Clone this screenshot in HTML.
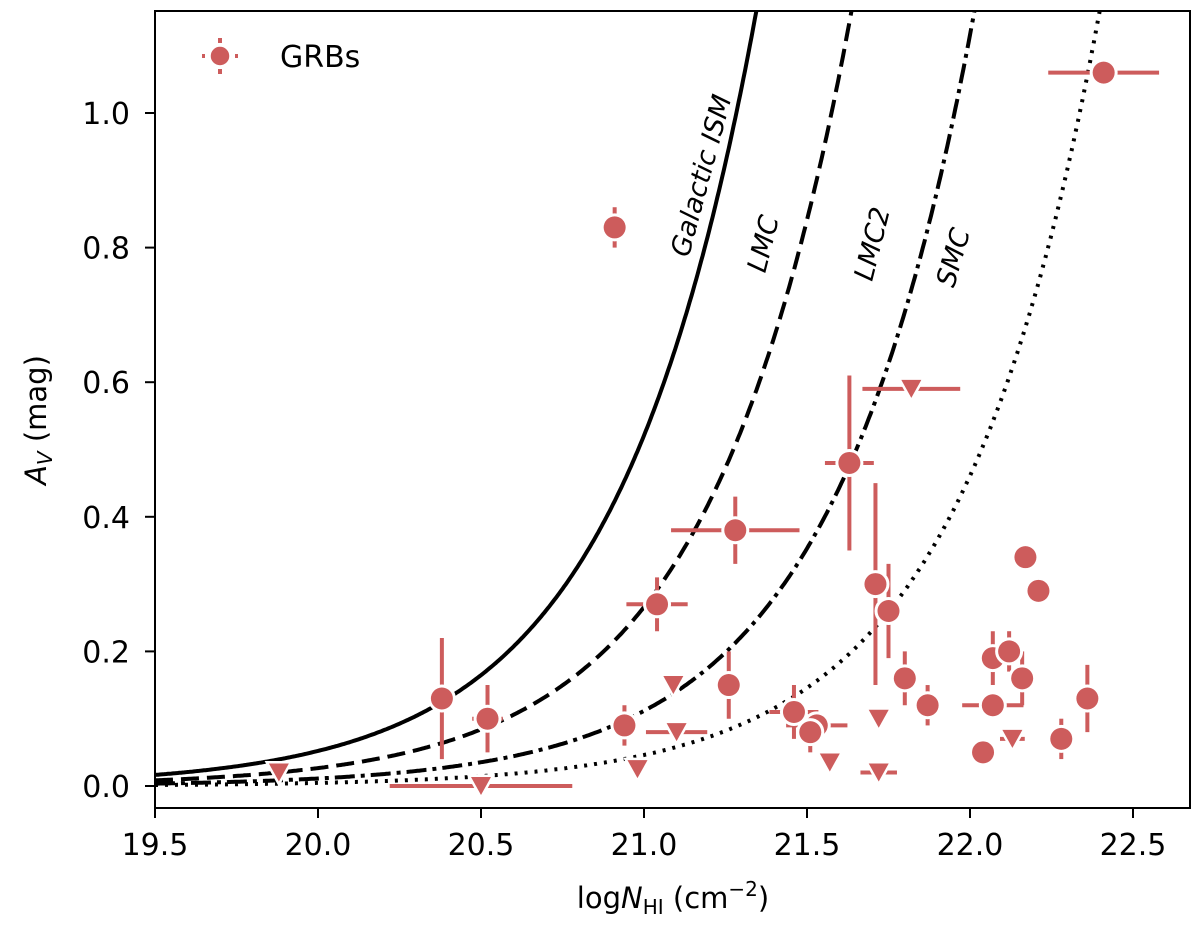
<!DOCTYPE html>
<html><head><meta charset="utf-8"><style>
body{margin:0;background:#fff}
svg{display:block;font-family:"DejaVu Sans","Liberation Sans",sans-serif}
</style></head><body>
<svg id="chart" width="1200" height="932" viewBox="0 0 1200 932">
<g id="curves"></g>
<g id="errs"></g>
<g id="marks"></g>
<rect x="155" y="11" width="1035" height="797" fill="none" stroke="#000" stroke-width="2"/>
<g id="axes" font-size="30"></g>
<text x="673" y="908" font-size="29" text-anchor="middle">log<tspan font-style="italic">N</tspan><tspan font-size="20" dy="6">HI</tspan><tspan dy="-6"> (cm</tspan><tspan font-size="20" dy="-12">−2</tspan><tspan dy="12">)</tspan></text>
<text transform="translate(46,420) rotate(-90)" font-size="29" text-anchor="middle"><tspan font-style="italic">A</tspan><tspan font-style="italic" font-size="20" dy="6">V</tspan><tspan dy="-6"> (mag)</tspan></text>
<g>
<line x1="220" y1="38" x2="220" y2="74" stroke="#cd5c5c" stroke-width="4" stroke-dasharray="5 26"/>
<line x1="202" y1="56" x2="238" y2="56" stroke="#cd5c5c" stroke-width="4" stroke-dasharray="3 30"/>
<circle cx="220" cy="56" r="10" fill="#cd5c5c" stroke="#fff" stroke-width="1.5"/>
<text x="280" y="67" font-size="30">GRBs</text>
</g>
<g font-size="27" font-style="italic">
<text transform="translate(710,178) rotate(-75)" text-anchor="middle">Galactic ISM</text>
<text transform="translate(772,246) rotate(-76)" text-anchor="middle">LMC</text>
<text transform="translate(881,246) rotate(-76)" text-anchor="middle">LMC2</text>
<text transform="translate(962,260) rotate(-74)" text-anchor="middle">SMC</text>
</g>
</svg>
<script>
const xTicks=[19.5,20.0,20.5,21.0,21.5,22.0,22.5];
const yTicks=[0.0,0.2,0.4,0.6,0.8,1.0];
const modelNames=['galactic','lmc','lmc2','smc'];
const modelRatios=[1.92e21,3.76e21,8.96e21,2.17e22];
const modelDash=['none','18 8','20 6 4 6','3 7'];
// detections: x, y, xerr, yerr
const detX=[20.38,20.52,20.91,21.04,21.28,21.26,20.94,21.46,21.53,21.51,21.63,21.71,21.75,21.80,21.87,22.04,22.07,22.07,22.12,22.16,22.17,22.21,22.28,22.36,22.41];
const detY=[0.13,0.10,0.83,0.27,0.38,0.15,0.09,0.11,0.09,0.08,0.48,0.30,0.26,0.16,0.12,0.05,0.19,0.12,0.20,0.16,0.34,0.29,0.07,0.13,1.06];
const detXerr=[0,0.047,0,0.094,0.197,0,0.028,0.075,0.094,0.028,0.075,0,0,0,0,0,0.019,0.094,0.028,0.019,0.028,0,0,0,0.17];
const detYerr=[0.09,0.05,0.03,0.04,0.05,0.05,0.03,0.04,0.02,0.03,0.13,0.15,0.07,0.04,0.03,0,0.04,0,0.03,0.04,0,0,0.03,0.05,0];
// upper limits
const limX=[19.88,20.50,20.98,21.09,21.10,21.57,21.72,21.72,21.82,22.13];
const limY=[0.02,0.0,0.025,0.15,0.08,0.035,0.10,0.02,0.59,0.07];
const limXerr=[0,0.28,0,0,0.094,0,0,0.056,0.15,0.038];
const C='#cd5c5c',NS='http://www.w3.org/2000/svg';
const X=v=>155+(v-19.5)*326, Y=v=>786-v*673;
function mk(tag,attrs,parent){const e=document.createElementNS(NS,tag);for(const k in attrs)e.setAttribute(k,attrs[k]);parent.appendChild(e);return e;}
const axes=document.getElementById('axes');
xTicks.forEach(t=>{
 const l=mk('line',{x1:X(t),x2:X(t),y1:808,y2:818,stroke:'#000','stroke-width':2},axes);
 
 
 const tx=mk('text',{x:X(t),y:855,'text-anchor':'middle'},axes);tx.textContent=t.toFixed(1);
 
 
});
yTicks.forEach(t=>{
 const l=mk('line',{x1:145,x2:155,y1:Y(t),y2:Y(t),stroke:'#000','stroke-width':2},axes);
 
 
 const tx=mk('text',{x:130,y:Y(t)+11,'text-anchor':'end'},axes);tx.textContent=t.toFixed(1);
 
 
});
const defs=mk('defs',{},document.getElementById('chart'));
const cp=mk('clipPath',{id:'clip'},defs);mk('rect',{x:155,y:11,width:1035,height:797},cp);
const cg=document.getElementById('curves');
modelRatios.forEach((k,i)=>{
 let d='';
 for(let lx=19.5;lx<=22.9;lx+=0.005){const av=Math.pow(10,lx)/k;if(av>1.2)break;d+=(d?'L':'M')+X(lx).toFixed(1)+','+Y(av).toFixed(1);}
 const p=mk('path',{d:d,fill:'none',stroke:'#000','stroke-width':4,'stroke-dasharray':modelDash[i],'clip-path':'url(#clip)'},cg);
 
 
});
const eg=document.getElementById('errs'),mg=document.getElementById('marks');
detX.forEach((x,i)=>{
 if(detXerr[i]>0){const e=mk('line',{x1:X(x-detXerr[i]),x2:X(x+detXerr[i]),y1:Y(detY[i]),y2:Y(detY[i]),stroke:C,'stroke-width':4},eg);
  
  }
 if(detYerr[i]>0){const e=mk('line',{x1:X(x),x2:X(x),y1:Y(detY[i]-detYerr[i]),y2:Y(detY[i]+detYerr[i]),stroke:C,'stroke-width':4},eg);
  
  }
});
limX.forEach((x,i)=>{
 if(limXerr[i]>0){const e=mk('line',{x1:X(x-limXerr[i]),x2:X(x+limXerr[i]),y1:Y(limY[i]),y2:Y(limY[i]),stroke:C,'stroke-width':4},eg);
  
  }
});
detX.forEach((x,i)=>{
 const c=mk('circle',{cx:X(x),cy:Y(detY[i]),r:11,fill:C,stroke:'#fff','stroke-width':6,'paint-order':'stroke'},mg);
 
 
});
limX.forEach((x,i)=>{
 const cx=X(x),cy=Y(limY[i]);
 const t=mk('polygon',{points:`${cx-10},${cy-9} ${cx+10},${cy-9} ${cx},${cy+9}`,fill:C,stroke:'#fff','stroke-width':5,'paint-order':'stroke'},mg);
 
 
});
</script>
</body></html>
